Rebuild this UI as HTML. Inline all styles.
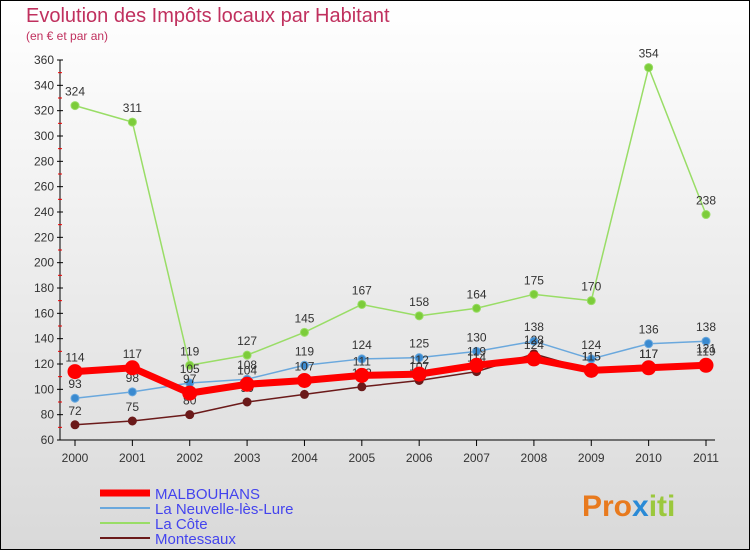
<!DOCTYPE html>
<html><head><meta charset="utf-8"><style>
body{margin:0;width:750px;height:550px;overflow:hidden;font-family:"Liberation Sans",sans-serif;}
</style></head><body>
<svg width="750" height="550" xmlns="http://www.w3.org/2000/svg">
<defs><linearGradient id="bg" x1="0" y1="0" x2="0" y2="1"><stop offset="0" stop-color="#ffffff"/><stop offset="1" stop-color="#d9d9d9"/></linearGradient></defs>
<rect x="0.5" y="0.5" width="749" height="549" fill="url(#bg)" stroke="#000"/>
<text x="26" y="22" font-size="20" fill="#c0305e">Evolution des Impôts locaux par Habitant</text>
<text x="26" y="40" font-size="12" fill="#c0305e">(en € et par an)</text>
<g id="axes"></g><g id="series"></g><g id="legend"></g>
<text x="582" y="516" font-size="30" font-weight="bold" fill="#e87a1e">Pro<tspan fill="#2a8ad6">x</tspan><tspan fill="#9bc83c">iti</tspan></text>
</svg>
<script>
const years=["2000","2001","2002","2003","2004","2005","2006","2007","2008","2009","2010","2011"];
const yTicks=[60,80,100,120,140,160,180,200,220,240,260,280,300,320,340,360];
const malbouhans=[114,117,97,104,107,111,112,119,124,115,117,119];
const neuvelle=[93,98,105,108,119,124,125,130,138,124,136,138];
const cote=[324,311,119,127,145,167,158,164,175,170,354,238];
const montessaux=[72,75,80,90,96,102,107,114,128,115,117,121];
const NS="http://www.w3.org/2000/svg";
const X=i=>75+i*(706-75)/11;
const Y=v=>440-(v-60)*380/300;
function mk(t,a,p){const e=document.createElementNS(NS,t);for(const k in a)e.setAttribute(k,a[k]);p.appendChild(e);return e;}
const ax=document.getElementById('axes');
const yl=mk('line',{x1:60,y1:60,x2:60,y2:440,stroke:'#000'},ax);

const xl=mk('line',{x1:60,y1:440,x2:715,y2:440,stroke:'#000'},ax);

yTicks.forEach(v=>{
 mk('line',{x1:57,y1:Y(v),x2:63,y2:Y(v),stroke:'#000'},ax);
 if(v<360)mk('line',{x1:58,y1:Y(v+10),x2:62,y2:Y(v+10),stroke:'#e00'},ax);
 const t=mk('text',{x:54,y:Y(v)+4,'font-size':12,fill:'#333','text-anchor':'end'},ax);t.textContent=v;
 
});
years.forEach((y,i)=>{
 mk('line',{x1:X(i),y1:440,x2:X(i),y2:446,stroke:'#000'},ax);
 const t=mk('text',{x:X(i),y:462,'font-size':12,fill:'#333','text-anchor':'middle'},ax);t.textContent=y;
 
});
const sg=document.getElementById('series');
function series(name,vals,color,w,r,dot){
 const g=mk('g',{},sg);
 
 mk('polyline',{points:vals.map((v,i)=>X(i)+','+Y(v)).join(' '),fill:'none',stroke:color,'stroke-width':w,'stroke-linejoin':'round'},g);
 vals.forEach((v,i)=>{
  const c=mk('circle',{cx:X(i),cy:Y(v),r:r,fill:dot,stroke:color,'stroke-width':1},g);
  
  const t=mk('text',{x:X(i),y:Y(v)-10,'font-size':12,fill:'#333','text-anchor':'middle'},g);t.textContent=v;
  
 });
}
series('series-la-cote',cote,'#99dd66',1.5,4,'#7ccc3a');
series('series-la-neuvelle',neuvelle,'#6aa8dd',1.5,4,'#3a8ad0');
series('series-montessaux',montessaux,'#6b1a1a',1.5,4,'#6b1a1a');
series('series-malbouhans',malbouhans,'#ff0000',7,7,'#ff0000');
const lg=document.getElementById('legend');
const items=[["MALBOUHANS","#ff0000",7],["La Neuvelle-lès-Lure","#6aa8dd",2],["La Côte","#99dd66",2],["Montessaux","#6b1a1a",2]];
items.forEach((it,i)=>{
 const y=493+i*15;
 const g=mk('g',{},lg);
 
 mk('line',{x1:100,y1:y,x2:150,y2:y,stroke:it[1],'stroke-width':it[2]},g);
 const t=mk('text',{x:155,y:y+6,'font-size':15,fill:'#4444ee'},g);t.textContent=it[0];
});
</script>
</body></html>
